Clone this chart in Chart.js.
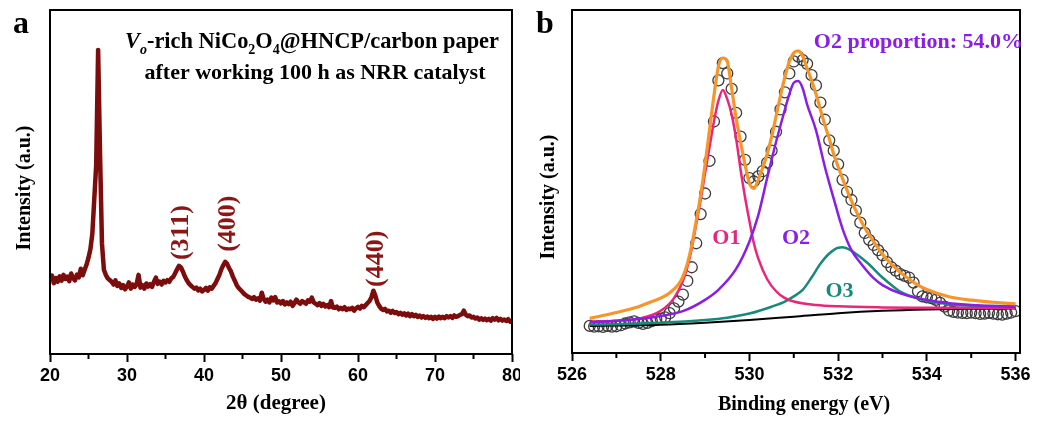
<!DOCTYPE html>
<html>
<head>
<meta charset="utf-8">
<script src="https://cdn.jsdelivr.net/npm/chart.js@4.4.0/dist/chart.umd.min.js"></script>
<style>
  html, body { margin: 0; padding: 0; background: #fff; }
  #wrap { position: relative; width: 1038px; height: 423px; }
  .pane { position: absolute; top: 0; height: 423px; }
  #pa { left: 0; width: 520px; }
  #pb { left: 520px; width: 518px; }
</style>
</head>
<body>
<div id="wrap">
  <div class="pane" id="pa"><canvas id="xrdChart"></canvas></div>
  <div class="pane" id="pb"><canvas id="xpsChart"></canvas></div>
</div>
<script>
// ---- panel a: XRD pattern (2theta 20..80, step 0.25) ----
const xrdStart = 20, xrdStep = 0.25;
const xrdIntensity = [
  21.5, 22.8, 20.6, 22.1,  21.0, 22.6, 21.3, 23.0,  21.8, 22.5, 21.2, 23.4,  22.0, 21.4, 23.1, 22.3,   // 20-23
  24.8, 22.9, 24.5, 26.0,  28.0, 30.5, 35.0, 45.0,  55.0, 88.4, 58.0, 32.0,  24.5, 23.0, 22.0, 21.5,   // 24-27
  21.0, 20.2, 21.4, 19.8,  20.5, 19.2, 20.0, 18.8,  19.6, 20.8, 19.0, 20.2,  19.5, 20.3, 23.0, 19.3,   // 28-31
  20.0, 19.0, 20.5, 19.6,  20.3, 19.5, 21.0, 22.2,  20.4, 21.0, 20.2, 21.3,  20.8, 21.5, 21.0, 22.0,   // 32-35
  22.4, 23.5, 24.6, 25.6,  25.2, 24.0, 22.6, 21.5,  20.6, 20.0, 19.5, 19.0,  19.3, 18.5, 19.0, 18.2,   // 36-39
  18.6, 19.2, 18.4, 19.4,  19.0, 19.8, 20.6, 21.8,  23.0, 24.6, 25.8, 26.8,  26.2, 25.0, 24.0, 22.5,   // 40-43
  21.3, 20.0, 19.2, 18.6,  18.0, 17.4, 17.0, 16.6,  16.4, 16.0, 16.5, 15.8,  16.2, 15.5, 17.8, 16.0,   // 44-47
  15.2, 15.8, 15.0, 16.4,  15.6, 16.5, 15.0, 15.3,  14.7, 15.4, 14.4, 15.0,  14.5, 15.2, 14.0, 14.8,   // 48-51
  15.8, 15.0, 14.6, 15.4,  15.0, 14.6, 15.6, 15.2,  16.4, 15.0, 14.6, 14.2,  14.8, 14.0, 14.6, 13.8,   // 52-55
  14.2, 13.6, 15.4, 13.5,  13.4, 13.8, 13.0, 13.4,  13.0, 13.6, 12.8, 13.2,  13.0, 13.4, 12.6, 13.3,   // 56-59
  13.7, 13.2, 14.0, 13.6,  14.2, 14.8, 15.4, 16.5,  18.4, 17.0, 15.0, 14.0,  13.2, 12.8, 13.1, 12.4,   // 60-63
  12.6, 12.0, 12.5, 11.9,  12.2, 11.6, 12.0, 11.4,  11.8, 11.2, 11.7, 11.0,  11.6, 11.0, 11.4, 10.8,   // 64-67
  11.2, 10.6, 11.0, 10.5,  10.9, 10.4, 10.8, 10.2,  10.8, 10.3, 10.9, 10.4,  10.8, 10.4, 11.0, 10.6,   // 68-71
  11.0, 10.5, 11.2, 10.8,  11.0, 11.4, 11.6, 12.6,  11.4, 11.0, 11.2, 10.6,  10.8, 10.3, 10.6, 10.0,   // 72-75
  10.4,  9.9, 10.3,  9.8,  10.2,  9.7, 10.4, 10.0,  10.5,  9.8, 10.2,  9.7,  10.0,  9.6, 10.1,  9.4,   // 76-79
  9.5                                                                                                   // 80
];
const xrdTicks = [20, 30, 40, 50, 60, 70, 80];
const xrdMinor = [25, 35, 45, 55, 65, 75];
const peakLabels = ['(311)', '(400)', '(440)'];
const peakPos = [36.9, 43.0, 62.2];
const peakLabelBase = [27.3, 29.7, 19.5];

// ---- panel b: O 1s XPS (measured points, step 0.1 eV from 526.4) ----
const xpsStart = 526.4, xpsStep = 0.1;
const xpsCounts = [
  7.9, 7.7, 7.8, 7.6, 7.9, 7.7, 7.8, 8.1, 8.6, 8.9,        // 526.4-527.3
  9.2, 8.8, 8.5, 8.8, 9.3, 9.8, 10.0, 10.4, 11.6, 13.0,    // 527.4-528.3
  15.0, 17.0, 21.0, 25.0, 32.0, 40.5, 46.5, 56.0, 67.5, 79.5, // 528.4-529.3
  84.5, 81.5, 77.0, 70.0, 63.1, 56.3, 51.0, 50.0, 51.5, 53.0, // 529.4-530.3
  55.5, 59.0, 64.5, 71.0, 76.0, 81.5, 85.0, 86.4, 85.4, 84.3, // 530.4-531.3
  81.0, 78.0, 73.0, 68.0, 62.0, 59.0, 55.0, 50.5, 47.0, 44.6, // 531.4-532.3
  41.5, 38.0, 35.0, 33.0, 31.5, 30.0, 28.5, 26.5, 25.0, 24.0, // 532.4-533.3
  23.0, 22.5, 22.0, 20.5, 18.0, 16.5, 16.2, 16.0, 15.5, 14.6, // 533.4-534.3
  13.5, 12.4, 12.0, 11.8, 11.7, 11.6, 11.8, 11.6, 11.4, 11.5, // 534.4-535.3
  11.7, 11.5, 11.3, 11.2, 11.5, 11.8, 12.2                    // 535.4-536.0
];
const fitE   = [526.4, 527.0, 527.5, 527.8, 528.0, 528.2, 528.4, 528.5, 528.6, 528.7, 528.8, 528.9, 529.0, 529.1, 529.2, 529.3, 529.4, 529.5, 529.6, 529.7, 529.8, 529.9, 530.0, 530.1, 530.2, 530.3, 530.4, 530.5, 530.6, 530.7, 530.8, 530.9, 531.0, 531.1, 531.2, 531.3, 531.4, 531.5, 531.6, 531.7, 531.8, 531.9, 532.0, 532.2, 532.4, 532.6, 532.8, 533.0, 533.2, 533.4, 533.6, 533.8, 534.0, 534.5, 535.0, 535.5, 536.0];
const fitSum = [10.1, 11.8, 13.5, 15.0, 16.0, 17.5, 20.0, 22.3, 26.0, 31.5, 38.5, 46.0, 55.0, 65.0, 75.0, 83.5, 86.0, 85.0, 77.0, 68.5, 61.5, 55.0, 49.5, 48.0, 50.5, 54.0, 58.0, 63.0, 69.0, 75.0, 80.5, 85.0, 87.5, 88.1, 86.5, 83.0, 79.5, 75.5, 71.0, 66.5, 62.5, 58.0, 54.3, 47.5, 41.5, 36.5, 32.5, 28.8, 26.0, 23.5, 21.5, 19.8, 18.5, 16.4, 15.4, 14.8, 14.3];
const o1E = [526.4, 527.0, 527.5, 528.0, 528.3, 528.5, 528.6, 528.7, 528.8, 528.9, 529.0, 529.1, 529.2, 529.3, 529.4, 529.5, 529.6, 529.7, 529.8, 529.9, 530.0, 530.1, 530.2, 530.4, 530.6, 530.8, 531.0, 531.5, 532.0, 533.0, 534.0, 535.0, 536.0];
const o1Y = [9.1, 9.4, 10.0, 12.3, 16.0, 21.0, 25.0, 30.5, 37.5, 44.5, 52.5, 60.0, 67.5, 73.5, 76.7, 74.0, 69.5, 62.5, 53.5, 45.5, 38.5, 32.0, 27.5, 21.5, 18.0, 16.0, 15.0, 14.0, 13.6, 13.3, 13.2, 13.1, 13.1];
const o2E = [526.4, 527.0, 527.5, 528.0, 528.5, 529.0, 529.3, 529.7, 530.0, 530.2, 530.4, 530.6, 530.8, 530.9, 531.0, 531.1, 531.2, 531.3, 531.5, 531.7, 531.9, 532.1, 532.3, 532.5, 532.8, 533.0, 533.4, 534.2, 535.0, 536.0];
const o2Y = [9.0, 9.4, 9.9, 10.8, 12.2, 15.5, 18.4, 24.5, 32.5, 40.2, 51.0, 61.5, 71.0, 75.5, 78.8, 79.3, 77.2, 72.5, 65.0, 54.3, 45.0, 36.2, 30.0, 26.3, 21.8, 19.8, 17.4, 15.0, 14.0, 13.5];
const o3E = [526.4, 527.0, 528.0, 529.0, 529.5, 530.0, 530.5, 530.8, 531.0, 531.2, 531.4, 531.6, 531.8, 532.0, 532.1, 532.3, 532.5, 532.7, 533.0, 533.2, 533.4, 533.8, 534.5, 535.0, 536.0];
const o3Y = [8.3, 8.4, 8.8, 9.6, 10.3, 11.5, 13.5, 15.0, 16.5, 18.4, 22.0, 26.0, 29.0, 30.7, 30.8, 29.8, 28.0, 25.8, 22.0, 19.8, 17.9, 15.9, 14.2, 13.8, 13.7];
const bgE = [526.4, 527.0, 528.0, 529.0, 530.0, 531.0, 532.0, 533.0, 534.0, 535.0, 536.0];
const bgY = [7.9, 8.0, 8.2, 8.8, 9.6, 10.6, 11.6, 12.3, 12.7, 12.9, 13.0];
const xpsTicks = [526, 528, 530, 532, 534, 536];
const xpsMinor = [527, 529, 531, 533, 535];

const serif = '"Liberation Serif", "Times New Roman", serif';
const sans = '"Liberation Sans", Arial, sans-serif';
const maroon = '#7d0c0c';
const pink = '#e8267c', violet = '#8a1de6', teal = '#17897d', orange = '#f5952a';

function pts(xs, ys) { return xs.map((x, i) => ({ x: x, y: ys[i] })); }

function boxAndMinor(chart, minor) {
  const ctx = chart.ctx, a = chart.chartArea, s = chart.scales.x;
  ctx.save();
  ctx.strokeStyle = '#000';
  ctx.lineWidth = 2;
  ctx.strokeRect(a.left, a.top, a.right - a.left, a.bottom - a.top);
  minor.forEach(v => {
    const x = s.getPixelForValue(v);
    ctx.beginPath(); ctx.moveTo(x, a.bottom); ctx.lineTo(x, a.bottom + 5); ctx.stroke();
  });
  ctx.restore();
}

function text(ctx, str, x, y, font, color, align, rot) {
  ctx.save();
  ctx.translate(x, y);
  if (rot) ctx.rotate(rot);
  ctx.font = font;
  ctx.fillStyle = color || '#000';
  ctx.textAlign = align || 'center';
  ctx.textBaseline = 'alphabetic';
  ctx.fillText(str, 0, 0);
  ctx.restore();
}

// rich line: [str, kind] kind: n normal, i italic, s subscript, is italic subscript
function richLine(ctx, parts, cx, y, size) {
  const subSize = Math.round(size * 0.62);
  const fontOf = k => (k === 'i' ? 'italic bold ' + size : k === 'is' ? 'italic bold ' + subSize : k === 's' ? 'bold ' + subSize : 'bold ' + size) + 'px ' + serif;
  let w = 0;
  parts.forEach(p => { ctx.font = fontOf(p[1]); w += ctx.measureText(p[0]).width; });
  let x = cx - w / 2;
  ctx.save();
  ctx.fillStyle = '#000';
  ctx.textAlign = 'left';
  ctx.textBaseline = 'alphabetic';
  parts.forEach(p => {
    ctx.font = fontOf(p[1]);
    const dy = (p[1] === 's' || p[1] === 'is') ? size * 0.25 : 0;
    ctx.fillText(p[0], x, y + dy);
    x += ctx.measureText(p[0]).width;
  });
  ctx.restore();
}

function xAxis(min, max, ticks, h) {
  return {
    type: 'linear', min: min, max: max,
    afterBuildTicks: s => { s.ticks = ticks.map(v => ({ value: v })); },
    afterFit: s => { s.height = h; s.paddingLeft = 0; s.paddingRight = 0; },
    grid: { drawOnChartArea: false, drawTicks: true, tickLength: 8, tickWidth: 2, tickColor: '#000', color: '#000' },
    border: { display: false },
    ticks: { color: '#000', padding: 3, maxRotation: 0, font: { family: sans, size: 18, weight: 'bold' } }
  };
}
const yAxis = { display: false, min: 0, max: 100 };

const xrdPlugin = {
  id: 'xrdDecor',
  afterDraw(chart) {
    const ctx = chart.ctx, xs = chart.scales.x, ys = chart.scales.y;
    boxAndMinor(chart, xrdMinor);
    text(ctx, 'a', 21, 33, 'bold 32px ' + serif);
    text(ctx, 'Intensity (a.u.)', 30, 188, 'bold 20px ' + serif, '#000', 'center', -Math.PI / 2);
    text(ctx, '2\u03b8 (degree)', 276, 409, 'bold 21px ' + serif);
    richLine(ctx, [['V', 'i'], ['o', 'is'], ['-rich NiCo', 'n'], ['2', 's'], ['O', 'n'], ['4', 's'], ['@HNCP/carbon paper', 'n']], 312, 48, 22.4);
    richLine(ctx, [['after working 100 h as NRR catalyst', 'n']], 315, 79, 22);
    peakLabels.forEach((lab, i) => {
      const x = xs.getPixelForValue(peakPos[i]), y = ys.getPixelForValue(peakLabelBase[i]);
      ctx.save();
      ctx.translate(x, y);
      ctx.rotate(-Math.PI / 2);
      ctx.font = 'bold 26px ' + serif;
      ctx.fillStyle = '#8a1616';
      ctx.textAlign = 'left';
      ctx.textBaseline = 'middle';
      ctx.fillText(lab, 0, 1);
      ctx.restore();
    });
  }
};

const xpsPlugin = {
  id: 'xpsDecor',
  afterDraw(chart) {
    const ctx = chart.ctx, xs = chart.scales.x, ys = chart.scales.y;
    boxAndMinor(chart, xpsMinor);
    text(ctx, 'b', 25, 33, 'bold 32px ' + serif);
    text(ctx, 'Intensity (a.u.)', 34, 197, 'bold 20px ' + serif, '#000', 'center', -Math.PI / 2);
    text(ctx, 'Binding energy (eV)', 284, 410, 'bold 20px ' + serif);
    text(ctx, 'O2 proportion: 54.0%', 503, 48, 'bold 22px ' + serif, violet, 'right');
    text(ctx, 'O1', xs.getPixelForValue(529.48), ys.getPixelForValue(31.8), 'bold 22px ' + serif, pink);
    text(ctx, 'O2', xs.getPixelForValue(531.05), ys.getPixelForValue(31.8), 'bold 22px ' + serif, violet);
    text(ctx, 'O3', xs.getPixelForValue(532.03), ys.getPixelForValue(16.4), 'bold 22px ' + serif, teal);
  }
};

const lineDs = (label, data, color, width) => ({
  label: label, data: data, showLine: true, borderColor: color, borderWidth: width,
  pointRadius: 0, fill: false, cubicInterpolationMode: 'monotone'
});

document.addEventListener('DOMContentLoaded', function () {
  const xrdTheta = xrdIntensity.map((v, i) => xrdStart + i * xrdStep);
  new Chart(document.getElementById('xrdChart'), {
    type: 'scatter',
    data: {
      datasets: [{
        label: 'XRD', data: pts(xrdTheta, xrdIntensity), showLine: true,
        borderColor: maroon, borderWidth: 4.5, borderJoinStyle: 'round', pointRadius: 0, tension: 0
      }]
    },
    options: {
      responsive: true, maintainAspectRatio: false, animation: false, events: [],
      layout: { padding: { left: 50, right: 8, top: 10, bottom: 0 } },
      plugins: { legend: { display: false }, tooltip: { enabled: false } },
      scales: { x: xAxis(20, 80, xrdTicks, 69), y: yAxis }
    },
    plugins: [xrdPlugin]
  });

  const xpsE = xpsCounts.map((v, i) => +(xpsStart + i * xpsStep).toFixed(1));
  new Chart(document.getElementById('xpsChart'), {
    type: 'scatter',
    data: {
      datasets: [
        lineDs('Fit', pts(fitE, fitSum), orange, 3.2),
        lineDs('O2', pts(o2E, o2Y), violet, 2.5),
        lineDs('O1', pts(o1E, o1Y), pink, 2.5),
        lineDs('O3', pts(o3E, o3Y), teal, 2.5),
        lineDs('Background', pts(bgE, bgY), '#000', 2),
        {
          label: 'Raw', data: pts(xpsE, xpsCounts), showLine: false,
          pointRadius: 5.5, pointBorderWidth: 1.3, pointBorderColor: '#3c3c3c', pointBackgroundColor: 'rgba(0,0,0,0)'
        }
      ]
    },
    options: {
      responsive: true, maintainAspectRatio: false, animation: false, events: [],
      layout: { padding: { left: 52, right: 18, top: 10, bottom: 0 } },
      plugins: { legend: { display: false }, tooltip: { enabled: false } },
      scales: { x: xAxis(526, 536.1, xpsTicks, 70), y: yAxis }
    },
    plugins: [xpsPlugin]
  });
});
</script>
</body>
</html>
